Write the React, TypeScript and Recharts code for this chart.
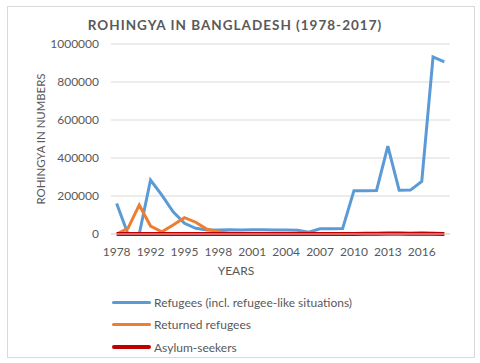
import { CartesianGrid, Label, Line, LineChart, XAxis, YAxis } from "recharts";

const years = [
  "1978", "1979", "1991", "1992", "1993", "1994", "1995", "1996", "1997", "1998",
  "1999", "2000", "2001", "2002", "2003", "2004", "2005", "2006", "2007", "2008",
  "2009", "2010", "2011", "2012", "2013", "2014", "2015", "2016", "2017", "2018",
];

const refugees = [
  161000, 0, 0, 284000, 205000, 117000, 56000, 30000, 21000, 21000,
  22000, 21000, 22000, 22000, 21000, 21000, 20000, 9000, 27000, 28000,
  29000, 228000, 228000, 229000, 463000, 230000, 231000, 276000, 932000, 906000,
];

const returned = [
  0, 30000, 153000, 42000, 12000, 47000, 86000, 62000, 25000, 12000,
  3000, 0, 0, 0, 0, 0, 0, 0, 0, 0,
  0, 0, 0, 0, 0, 0, 0, 0, 0, 0,
];

const asylum = [
  0, 0, 0, 0, 0, 0, 0, 0, 0, 0,
  0, 0, 0, 0, 0, 0, 0, 0, 100, 200,
  300, 500, 800, 1500, 2500, 2000, 1500, 2500, 1000, 300,
];

const yTicks = [0, 200000, 400000, 600000, 800000, 1000000];

const data = years.map((year, i) => ({
  year,
  refugees: refugees[i],
  returned: returned[i],
  asylum: asylum[i],
}));

const series = [
  { key: "refugees", name: "Refugees (incl. refugee-like situations)", color: "#5B9BD5", width: 3 },
  { key: "returned", name: "Returned refugees", color: "#ED7D31", width: 3 },
  { key: "asylum", name: "Asylum-seekers", color: "#C00000", width: 4 },
];

const font = "Lato, 'Open Sans', sans-serif";
const grey = "#595959";

export default function App() {
  return (
    <div style={{ position: "absolute", left: 0, top: 0, width: 480, height: 363, background: "#fff", fontFamily: font }}>
      <div
        style={{
          position: "absolute",
          left: 7,
          top: 6,
          width: 466,
          height: 350,
          border: "1px solid #d9d9d9",
        }}
      />
      <div
        style={{
          position: "absolute",
          left: 0,
          width: 470,
          top: 15,
          textAlign: "center",
          fontSize: 13.5,
          fontWeight: 700,
          letterSpacing: 1,
          color: grey,
          lineHeight: "20px",
        }}
      >
        ROHINGYA IN BANGLADESH (1978-2017)
      </div>
      <LineChart
        width={480}
        height={363}
        data={data}
        margin={{ top: 44, right: 30, bottom: 89, left: 0 }}
        style={{ position: "absolute", left: 0, top: 0 }}
      >
        <CartesianGrid vertical={false} stroke="#d9d9d9" />
        <XAxis
          dataKey="year"
          interval={2}
          height={40}
          padding={{ left: 5.65, right: 5.65 }}
          tickLine={false}
          tickSize={0}
          tickMargin={13}
          axisLine={{ stroke: "#d9d9d9" }}
          tick={{ fill: grey, fontSize: 12, fontFamily: font }}
        >
          <Label
            content={() => (
              <text x={236} y={270} textAnchor="middle" dominantBaseline="central" fill={grey} fontSize={12} fontFamily={font}>
                YEARS
              </text>
            )}
          />
        </XAxis>
        <YAxis
          width={111}
          domain={[0, 1000000]}
          ticks={yTicks}
          interval={0}
          tickLine={false}
          axisLine={false}
          tickSize={0}
          tickMargin={12}
          tick={{ fill: grey, fontSize: 12, fontFamily: font }}
        >
          <Label
            content={() => (
              <text
                x={40}
                y={139}
                transform="rotate(-90 40 139)"
                textAnchor="middle"
                dominantBaseline="central"
                fill={grey}
                fontSize={12}
                fontFamily={font}
                textLength={131}
                lengthAdjust="spacingAndGlyphs"
              >
                ROHINGYA IN NUMBERS
              </text>
            )}
          />
        </YAxis>
        {series.map((s) => (
          <Line
            key={s.key}
            type="linear"
            dataKey={s.key}
            name={s.name}
            stroke={s.color}
            strokeWidth={s.width}
            dot={false}
            activeDot={false}
            isAnimationActive={false}
          />
        ))}
      </LineChart>
      <div style={{ position: "absolute", left: 112, top: 291 }}>
        {series.map((s) => (
          <div key={s.key} style={{ display: "flex", alignItems: "center", height: 22.6 }}>
            <div style={{ width: 39, height: s.width, background: s.color, borderRadius: 2 }} />
            <span style={{ marginLeft: 3, fontSize: 12, color: grey, fontFamily: font }}>{s.name}</span>
          </div>
        ))}
      </div>
    </div>
  );
}
